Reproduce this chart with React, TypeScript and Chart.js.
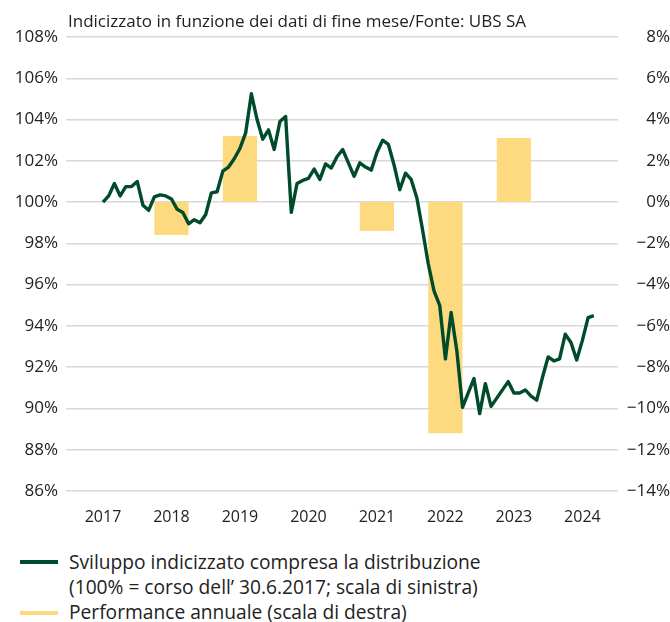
import React, { useEffect, useRef } from "react";
import { Chart, registerables } from "chart.js";

Chart.register(...registerables);

// Monthly index values (month-end), June 2017 .. August 2024 (left scale, %)
const lineStartYear = 2017;
const lineStartMonth = 6;
const indexValues = [
  100.0, 100.3, 100.9, 100.3, 100.75, 100.75, 101.0,
  99.85, 99.6, 100.25, 100.35, 100.3, 100.15, 99.65, 99.5, 98.95, 99.15, 99.0, 99.4,
  100.45, 100.5, 101.5, 101.7, 102.1, 102.6, 103.35, 105.25, 104.0, 103.05, 103.5, 102.55,
  103.9, 104.15, 99.5, 100.9, 101.05, 101.15, 101.6, 101.1, 101.85, 101.65, 102.2, 102.55,
  101.9, 101.25, 101.9, 101.7, 101.55, 102.4, 103.0, 102.8, 101.8, 100.6, 101.4, 101.1,
  100.2, 98.65, 97.0, 95.7, 95.0, 92.4, 94.65, 92.8, 90.05, 90.75, 91.45, 89.75,
  91.2, 90.1, 90.5, 90.9, 91.3, 90.75, 90.75, 90.9, 90.6, 90.4, 91.5, 92.5,
  92.3, 92.4, 93.6, 93.2, 92.35, 93.3, 94.4, 94.5,
];

// Annual performance (right scale, %)
const perfYears = [2018, 2019, 2020, 2021, 2022, 2023];
const perfValues = [-1.6, 3.2, 0, -1.4, -11.2, 3.1];

// Axis labels
const xYears = [2017, 2018, 2019, 2020, 2021, 2022, 2023, 2024];
const leftTicks = [86, 88, 90, 92, 94, 96, 98, 100, 102, 104, 106, 108];
const rightTicks = [-14, -12, -10, -8, -6, -4, -2, 0, 2, 4, 6, 8];

const titleText = "Indicizzato in funzione dei dati di fine mese/Fonte: UBS SA";
const legendLine1 = "Sviluppo indicizzato compresa la distribuzione";
const legendLine2 = "(100% = corso dell\u2019 30.6.2017; scala di sinistra)";
const legendBars = "Performance annuale (scala di destra)";

const GREEN = "#004b2b";
const YELLOW = "#fdd97f";
const FONT = "'Open Sans', sans-serif";

export default function App() {
  const ref = useRef<HTMLCanvasElement | null>(null);

  useEffect(() => {
    if (!ref.current) return;
    const lineData = indexValues.map((v, i) => ({
      x: lineStartYear + (lineStartMonth + i) / 12,
      y: v,
    }));
    const barData = perfYears.map((yr, i) => ({ x: yr + 0.5, y: perfValues[i] }));

    const chart = new Chart(ref.current, {
      type: "bar",
      data: {
        datasets: [
          {
            type: "line",
            data: lineData,
            xAxisID: "x",
            yAxisID: "y",
            borderColor: GREEN,
            borderWidth: 3.4,
            pointRadius: 0,
            tension: 0,
            order: 0,
            borderJoinStyle: "round",
          } as any,
          {
            type: "bar",
            data: barData,
            xAxisID: "x",
            yAxisID: "y1",
            backgroundColor: YELLOW,
            barPercentage: 0.5,
            categoryPercentage: 1,
            order: 1,
          } as any,
        ],
      },
      options: {
        responsive: false,
        animation: false,
        layout: { padding: { top: 37, left: 0, right: 0, bottom: 0 } },
        plugins: {
          legend: { display: false },
          tooltip: { enabled: false },
          title: { display: false },
        },
        scales: {
          x: {
            type: "linear",
            offset: false,
            min: 2016.96,
            max: 2025.02,
            grid: { display: false, offset: false },
            border: { display: false },
            afterBuildTicks: (scale: any) => {
              scale.ticks = xYears.map((y) => ({ value: y + 0.5 }));
            },
            afterFit: (scale: any) => {
              scale.height = 49;
            },
            ticks: {
              autoSkip: false,
              maxRotation: 0,
              padding: 9,
              color: "#222",
              font: { family: FONT, size: 16 },
              callback: (v: any) => String(Math.floor(Number(v))),
            },
          },
          y: {
            position: "left",
            min: 86,
            max: 108,
            afterBuildTicks: (scale: any) => {
              scale.ticks = leftTicks.map((v) => ({ value: v }));
            },
            afterFit: (scale: any) => {
              scale.width = 66;
            },
            grid: { color: "#d8d8d8", lineWidth: 1.5, drawTicks: false },
            border: { display: false },
            ticks: {
              padding: 8,
              color: "#222",
              font: { family: FONT, size: 17 },
              callback: (v: any) => `${v}%`,
            },
          },
          y1: {
            position: "right",
            min: -14,
            max: 8,
            afterBuildTicks: (scale: any) => {
              scale.ticks = rightTicks.map((v) => ({ value: v }));
            },
            afterFit: (scale: any) => {
              scale.width = 52;
            },
            grid: { display: false, drawTicks: false },
            border: { display: false },
            ticks: {
              padding: 8,
              crossAlign: "far",
              color: "#222",
              font: { family: FONT, size: 17 },
              callback: (v: any) =>
                Number(v) < 0 ? `\u2212${Math.abs(Number(v))}%` : `${v}%`,
            },
          },
        },
      },
    });
    return () => chart.destroy();
  }, []);

  const textStyle: React.CSSProperties = {
    position: "absolute",
    fontFamily: FONT,
    color: "#222",
    whiteSpace: "nowrap",
    margin: 0,
  };

  return (
    <div
      style={{
        position: "absolute",
        left: 0,
        top: 0,
        width: 670,
        height: 622,
        background: "#fff",
        overflow: "hidden",
      }}
    >
      <canvas
        ref={ref}
        width={670}
        height={540}
        style={{ position: "absolute", left: 0, top: 0, width: 670, height: 540 }}
      />
      <div style={{ ...textStyle, left: 68, top: 9, fontSize: 17, lineHeight: "24px" }}>
        {titleText}
      </div>
      <div
        style={{
          position: "absolute",
          left: 20,
          top: 560,
          width: 38,
          height: 4,
          background: GREEN,
        }}
      />
      <div
        style={{
          position: "absolute",
          left: 20,
          top: 611,
          width: 38,
          height: 4,
          background: YELLOW,
        }}
      />
      <div style={{ ...textStyle, left: 69, top: 549, fontSize: 19.2, lineHeight: "25px" }}>
        {legendLine1}
        <br />
        {legendLine2}
        <br />
        {legendBars}
      </div>
    </div>
  );
}
